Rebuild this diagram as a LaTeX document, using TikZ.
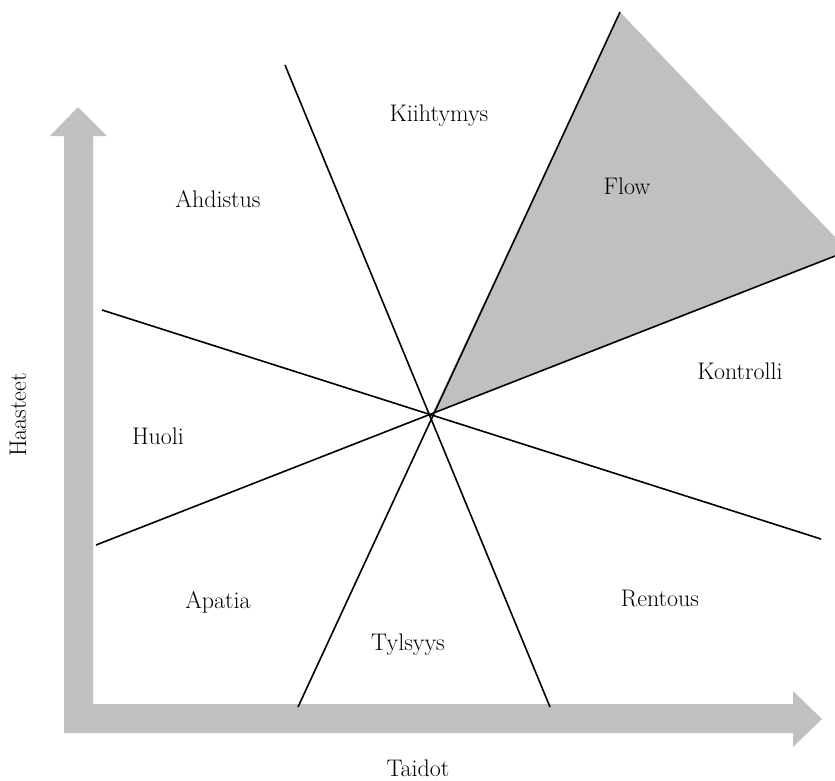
\documentclass[tikz,border=0pt]{standalone}
\definecolor{axisgray}{HTML}{C0C0C0}
\tikzset{
  zone/.style={font=\fontsize{24}{28}\selectfont, inner sep=0pt},
  divider/.style={draw=black, line width=1.6pt},
  axisarrow/.style={fill=axisgray, draw=none}
}
\begin{document}
\begin{tikzpicture}[x=1pt,y=-1pt]
\useasboundingbox (0,0) rectangle (835,780);
% axes
\fill[axisarrow] (64,733) -- (64,136) -- (50,136) -- (78,107) -- (107,136) -- (93,136) -- (93,704)
  -- (793,704) -- (793,691) -- (822,719) -- (793,747) -- (793,733) -- cycle;
% coordinates
\coordinate (c) at (432,414);
\coordinate (t1) at (285,65);
\coordinate (b1) at (550,707);
\coordinate (t2) at (620,12);
\coordinate (b2) at (298,707);
\coordinate (l1) at (102,310);
\coordinate (r1) at (821,539);
\coordinate (l2) at (96,545);
\coordinate (r2) at (835,256);
\coordinate (fr) at (835,237);
% flow region
\fill[axisgray] (c) -- (t2) -- (fr) -- (r2) -- cycle;
% dividers
\draw[divider] (t1) -- (b1);
\draw[divider] (t2) -- (b2);
\draw[divider] (l1) -- (r1);
\draw[divider] (l2) -- (r2);
% labels
\node[zone] (kii) at (439,116) {Kiihtymys};
\node[zone] (ahd) at (218,199) {Ahdistus};
\node[zone] (flow) at (627,186) {Flow};
\node[zone] (huo) at (158,436) {Huoli};
\node[zone] (kon) at (740,371) {Kontrolli};
\node[zone] (apa) at (218,602) {Apatia};
\node[zone] (ren) at (660,598) {Rentous};
\node[zone] (tyl) at (408,645) {Tylsyys};
\node[zone, rotate=90] (haa) at (18,415) {Haasteet};
\node[zone, anchor=base] (tai) at (418,776) {Taidot};
\end{tikzpicture}
\end{document}
